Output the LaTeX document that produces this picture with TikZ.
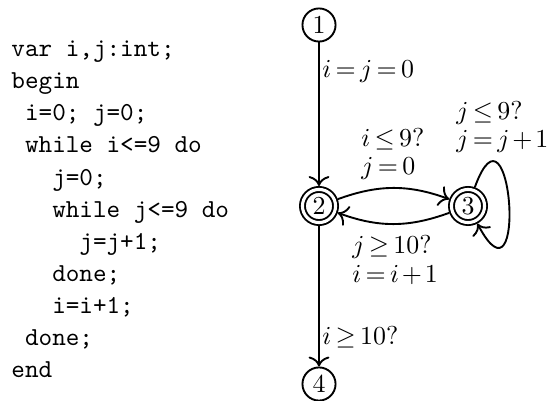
\documentclass[tikz,border=0pt]{standalone}
\usetikzlibrary{arrows.meta}
\newcommand\mylabfont{\fontsize{10.95}{12}\selectfont\thickmuskip=3mu\relax\medmuskip=2mu\relax}
\begin{document}
\begin{tikzpicture}[x=0.4228pt,y=0.4228pt,
  state/.style={circle,draw,line width=0.8pt,minimum size=14pt,inner sep=0pt,
    font=\fontsize{10.95}{13.6}\selectfont},
  accept/.style={state,double,double distance=1.3pt,outer sep=1.45pt},
  arr/.style={-{To[scale=1.25]},line width=0.8pt},
  code/.style={anchor=base west,inner sep=0pt,font=\ttfamily\fontsize{10.95}{13.6}\selectfont},
  lab/.style={anchor=west,inner sep=0pt,align=left,font=\mylabfont}]
\useasboundingbox (0,0) rectangle (548,400);
% code listing
\node[code] (c1) at (11,343.3) {var i,j:int;};
\node[code] (c2) at (11,311.2) {begin};
\node[code] (c3) at (11,279.1) {\ i=0; j=0;};
\node[code] (c4) at (11,247.0) {\ while i<=9 do};
\node[code] (c5) at (11,214.9) {\ \ \ j=0;};
\node[code] (c6) at (11,182.8) {\ \ \ while j<=9 do};
\node[code] (c7) at (11,150.7) {\ \ \ \ \ j=j+1;};
\node[code] (c8) at (11,118.6) {\ \ \ done;};
\node[code] (c9) at (11,86.5) {\ \ \ i=i+1;};
\node[code] (c10) at (11,54.4) {\ done;};
\node[code] (c11) at (11,22.3) {end};
% automaton
\node[state] (n1) at (319,375) {1};
\node[accept] (n2) at (319,194) {2};
\node[accept] (n3) at (468,194) {3};
\node[state] (n4) at (319,16) {4};
\draw[arr] (n1) -- (n2);
\draw[arr] (n2) -- (n4);
\draw[arr] (n2) to[bend left=20] (n3);
\draw[arr] (n3) to[bend left=20] (n2);
\draw[arr] (n3.70) .. controls +(70:108) and +(-62:108) .. (n3.-62);
% labels
\node[lab] (l1) at (322,328.3) {$i=j=0$};
\node[lab] (l2) at (361,246) {$i\leq 9?$\\$j=0$};
\node[lab] (l3) at (456,273) {$j\leq 9?$\\$j=j+1$};
\node[lab] (l4) at (352,140) {$j\geq 10?$\\$i=i+1$};
\node[lab] (l5) at (322,63) {$i\geq 10?$};
\end{tikzpicture}
\end{document}
